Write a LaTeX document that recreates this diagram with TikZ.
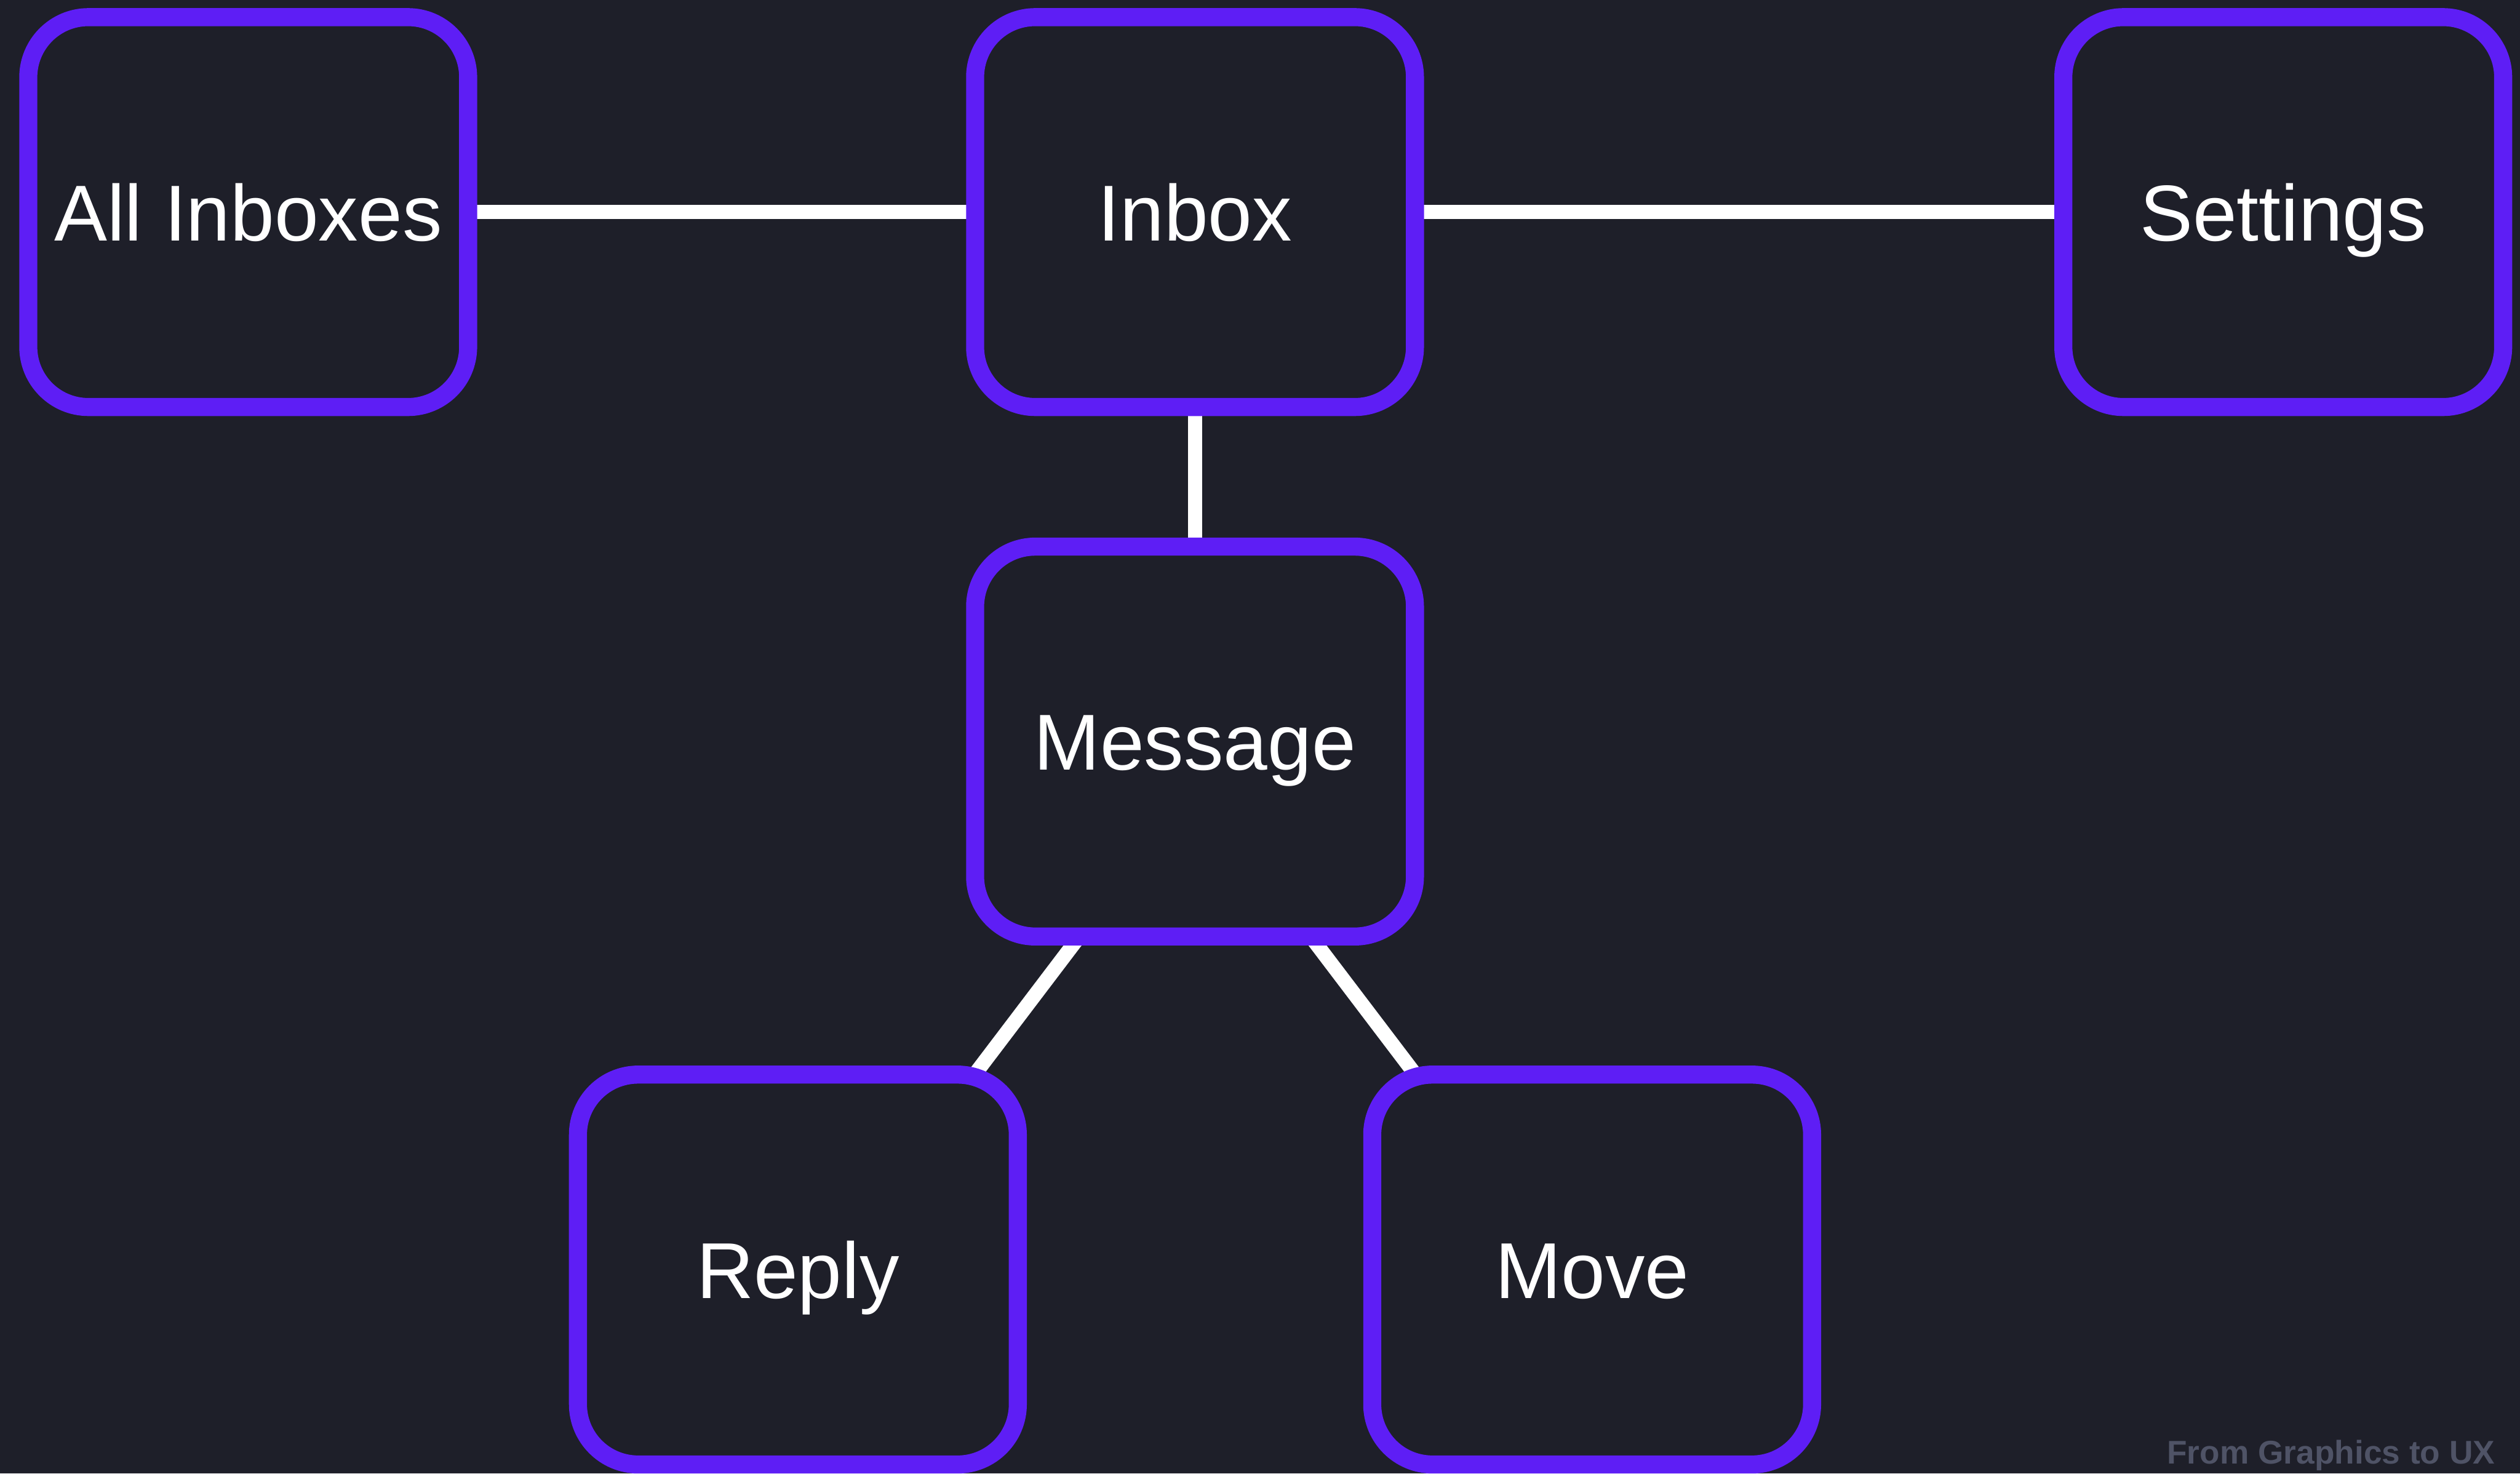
\documentclass[tikz,border=0pt]{standalone}
\usepackage{fontspec}
\setmainfont{Liberation Sans}
\usetikzlibrary{calc}
\definecolor{bgc}{HTML}{1E1F29}
\definecolor{purp}{HTML}{5E1EF5}
\definecolor{wmark}{HTML}{4F5366}
\pgfdeclarelayer{canvas}
\pgfdeclarelayer{back}
\pgfsetlayers{canvas,back,main}
\tikzset{
  screen/.style={draw=purp, line width=0.30cm, fill=bgc, rounded corners=1.0cm,
    minimum width=7.31cm, minimum height=6.48cm, text=white,
    font=\fontsize{37.5}{45}\selectfont, text height=0.95cm, text depth=0pt, inner sep=0pt},
  link/.style={draw=white, line width=0.24cm}
}
\begin{document}
\begin{tikzpicture}
\begin{pgfonlayer}{canvas}
\fill[bgc] (0,0) rectangle (41.88,-24.49);
\end{pgfonlayer}
\useasboundingbox (0,0) rectangle (41.88,-24.49);
\node[screen] (all) at (4.125,-3.525) {All Inboxes};
\node[screen] (inbox) at (19.86,-3.525) {Inbox};
\node[screen] (settings) at (37.945,-3.525) {Settings};
\node[screen] (msg) at (19.86,-12.325) {Message};
\node[screen] (reply) at (13.26,-21.10) {Reply};
\node[screen] (move) at (26.46,-21.10) {Move};
\begin{pgfonlayer}{back}
\draw[link] (all.center) -- (inbox.center);
\draw[link] (inbox.center) -- (settings.center);
\draw[link] (inbox.center) -- (msg.center);
\draw[link] ($(msg.center)+(-1.49,-2.67)$) -- ($(reply.center)+(2.45,2.60)$);
\draw[link] ($(msg.center)+(1.49,-2.67)$) -- ($(move.center)+(-2.45,2.60)$);
\end{pgfonlayer}
\node[anchor=base east, text=wmark, inner sep=0pt, font=\fontsize{15.5}{18}\selectfont\bfseries] (wm) at (41.47,-24.33) {From Graphics to UX};
\end{tikzpicture}
\end{document}
